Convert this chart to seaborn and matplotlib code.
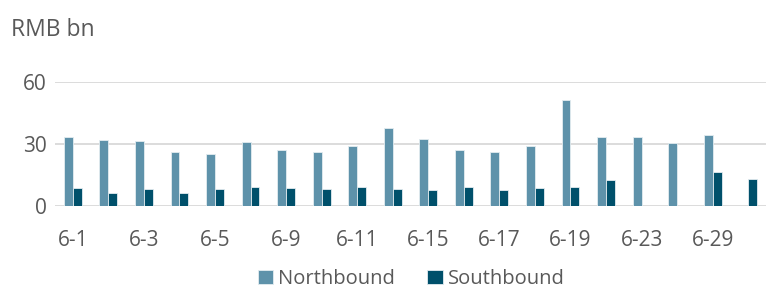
import pandas as pd
import numpy as np
import matplotlib.pyplot as plt
import seaborn as sns

dates = ['6-1', '6-2', '6-3', '6-4', '6-5', '6-8', '6-9', '6-10', '6-11', '6-12',
         '6-15', '6-16', '6-17', '6-18', '6-19', '6-22', '6-23', '6-24', '6-29', '6-30']
northbound = [33.5, 32.0, 31.6, 26.2, 25.1, 30.9, 27.2, 26.1, 29.1, 37.7,
              32.7, 27.2, 26.2, 29.0, 51.3, 33.7, 33.5, 30.6, 34.5, np.nan]
southbound = [8.9, 6.5, 8.3, 6.5, 8.1, 9.2, 8.9, 8.3, 9.2, 8.1,
              7.6, 9.2, 7.8, 8.6, 9.2, 12.5, np.nan, np.nan, 16.7, 13.1]
y_ticks = [0, 30, 60]


def main():
    df = pd.DataFrame({'date': dates, 'Northbound': northbound, 'Southbound': southbound})
    long_df = df.melt(id_vars='date', var_name='flow', value_name='value')

    sns.set_theme(style="white")
    plt.rcParams['font.family'] = ['Open Sans', 'DejaVu Sans']
    text_color = '#595959'

    fig = plt.figure(figsize=(7.66, 2.88), dpi=100)
    ax = fig.add_axes([55 / 766, 1 - 206 / 288, 1 - 55 / 766, (206 - 82.3) / 288])

    sns.barplot(data=long_df, x='date', y='value', hue='flow', order=dates,
                palette=['#5E92AA', '#00506B'], saturation=1, width=0.5,
                edgecolor='#e3ecf0', linewidth=0.6, ax=ax)

    ax.set_ylim(0, 60)
    ax.set_yticks(y_ticks)
    ax.set_xlim(-0.5, len(dates) - 0.5)
    ax.yaxis.grid(True, color='#d9d9d9', linewidth=1.3)
    ax.set_axisbelow(True)
    for s in ax.spines.values():
        s.set_visible(False)

    ax.set_xticks(range(len(dates)))
    ax.set_xticklabels([d if i % 2 == 0 else '' for i, d in enumerate(dates)])
    ax.tick_params(axis='both', length=0, labelsize=15, colors=text_color)
    ax.tick_params(axis='x', pad=17)
    ax.tick_params(axis='y', pad=6)
    ax.set_xlabel('')
    ax.set_ylabel('')

    fig.text(11 / 766, 1 - 30 / 288, 'RMB bn', fontsize=16.5, color=text_color, va='center')

    ax.legend(loc='center', bbox_to_anchor=(0.537, 1 - 279 / 288), bbox_transform=fig.transFigure,
              ncol=2, frameon=False, fontsize=14.5, handlelength=0.75, handleheight=0.75,
              columnspacing=1.6, handletextpad=0.25, labelcolor=text_color)

    plt.savefig('out.png', dpi=100)
    plt.close()


if __name__ == "__main__":
    main()
